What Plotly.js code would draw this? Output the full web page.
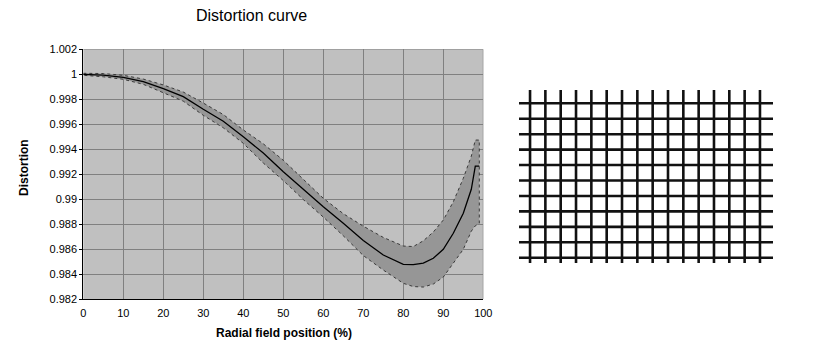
<!DOCTYPE html>
<html>
<head>
<meta charset="utf-8">
<script src="https://cdn.plot.ly/plotly-3.0.1.min.js"></script>
<style>html,body{margin:0;padding:0;background:#fff;}#chart{width:825px;height:354px;}</style>
</head>
<body>
<div id="chart"></div>
<script>
// Radial field position (%)
var positions = [0, 5, 10, 15, 20, 25, 30, 35, 40, 45, 50, 55, 60, 65, 70, 75, 80, 82.5, 85, 87.5, 90, 92.5, 95, 97, 98, 99];
// Distortion (mean curve)
var distortion = [1.0000, 0.99994, 0.99976, 0.99941, 0.99885, 0.99821, 0.9972, 0.99625, 0.995, 0.9937, 0.9922, 0.99078, 0.98941, 0.98808, 0.9867, 0.98554, 0.9848, 0.98478, 0.9849, 0.98528, 0.986, 0.98728, 0.98888, 0.9908, 0.99266, 0.99266];
// Upper envelope
var upperBound = [1.00008, 1.00006, 0.99992, 0.99962, 0.99915, 0.99858, 0.9977, 0.99678, 0.99555, 0.99444, 0.99312, 0.99158, 0.99008, 0.98885, 0.98785, 0.98695, 0.98626, 0.98622, 0.98668, 0.98738, 0.98834, 0.9898, 0.99168, 0.99345, 0.99474, 0.99474];
// Lower envelope
var lowerBound = [0.99992, 0.9998, 0.9996, 0.9992, 0.99855, 0.99785, 0.99672, 0.99572, 0.99448, 0.9929, 0.9915, 0.98998, 0.98858, 0.98708, 0.9855, 0.98434, 0.98328, 0.98302, 0.98298, 0.98322, 0.98378, 0.98488, 0.9860, 0.98745, 0.98788, 0.98808];

var xTickVals = [0, 10, 20, 30, 40, 50, 60, 70, 80, 90, 100];
var yTickVals = [0.982, 0.984, 0.986, 0.988, 0.99, 0.992, 0.994, 0.996, 0.998, 1, 1.002];
var yTickText = ["0.982", "0.984", "0.986", "0.988", "0.99", "0.992", "0.994", "0.996", "0.998", "1", "1.002"];

// Distorted-grid picture: column and row line indices
var gridCols = [0, 1, 2, 3, 4, 5, 6, 7, 8, 9, 10, 11, 12, 13, 14, 15];
var gridRows = [0, 1, 2, 3, 4, 5, 6, 7, 8, 9, 10];

var FONT = "Liberation Sans, Arial, sans-serif";

var traces = [];
// band polygon
var bandX = positions.concat(positions.slice().reverse());
var bandY = upperBound.concat(lowerBound.slice().reverse());
traces.push({
  x: bandX, y: bandY, type: "scatter", mode: "lines",
  fill: "toself", fillcolor: "#969696",
  line: {color: "#3a3a3a", width: 1, dash: "dot"},
  hoverinfo: "skip", showlegend: false, xaxis: "x", yaxis: "y"
});
traces.push({
  x: positions, y: distortion, type: "scatter", mode: "lines",
  line: {color: "#000000", width: 1.3},
  showlegend: false, xaxis: "x", yaxis: "y"
});

// grid picture
var rowMin = -0.34, rowMax = 10.86, colMin = -0.72, colMax = 15.85;
gridCols.forEach(function (c) {
  traces.push({x: [c, c], y: [rowMin, rowMax], type: "scatter", mode: "lines",
    line: {color: "#111111", width: 2.6}, showlegend: false, hoverinfo: "skip",
    xaxis: "x2", yaxis: "y2"});
});
gridRows.forEach(function (r) {
  traces.push({x: [colMin, colMax], y: [r, r], type: "scatter", mode: "lines",
    line: {color: "#111111", width: 2.6}, showlegend: false, hoverinfo: "skip",
    xaxis: "x2", yaxis: "y2"});
});

var layout = {
  width: 825, height: 354,
  margin: {l: 0, r: 0, t: 0, b: 0},
  paper_bgcolor: "#ffffff",
  plot_bgcolor: "rgba(0,0,0,0)",
  font: {family: FONT, size: 11, color: "#000"},
  showlegend: false,
  annotations: [
    {text: "Distortion curve", xref: "paper", yref: "paper", x: 251 / 825, y: 1 - 15 / 354,
     xanchor: "center", yanchor: "middle", showarrow: false,
     font: {family: FONT, size: 16, color: "#000"}},
    {text: "<b>Distortion</b>", xref: "paper", yref: "paper", x: 24 / 825, y: 1 - 168 / 354,
     xanchor: "center", yanchor: "middle", showarrow: false, textangle: -90,
     font: {family: FONT, size: 12, color: "#000"}},
    {text: "<b>Radial field position (%)</b>", xref: "paper", yref: "paper", x: 284 / 825, y: 1 - 333 / 354,
     xanchor: "center", yanchor: "middle", showarrow: false,
     font: {family: FONT, size: 12, color: "#000"}}
  ],
  xaxis: {
    domain: [83.3 / 825, 483.3 / 825], range: [0, 100],
    tickvals: xTickVals, ticks: "", ticklabelstandoff: 3,
    showgrid: true, gridcolor: "#808080", gridwidth: 1,
    showline: true, linecolor: "#000", linewidth: 1, zeroline: false,
    tickfont: {family: FONT, size: 11, color: "#000"}, fixedrange: true
  },
  yaxis: {
    domain: [1 - 299.3 / 354, 1 - 49.3 / 354], range: [0.982, 1.002],
    tickvals: yTickVals, ticktext: yTickText, ticks: "outside", ticklen: 3, tickcolor: "#000",
    showgrid: true, gridcolor: "#808080", gridwidth: 1,
    showline: true, linecolor: "#000", linewidth: 1, zeroline: false,
    tickfont: {family: FONT, size: 11, color: "#000"}, fixedrange: true
  },
  xaxis2: {
    domain: [519 / 825, 773 / 825], range: [colMin, colMax], anchor: "y2",
    visible: false, fixedrange: true
  },
  yaxis2: {
    domain: [1 - 263 / 354, 1 - 90 / 354], range: [rowMin, rowMax], anchor: "x2",
    visible: false, fixedrange: true
  },
  shapes: [
    {type: "rect", xref: "x domain", yref: "y domain", x0: 0, x1: 1, y0: 0, y1: 1,
     fillcolor: "#c0c0c0", line: {width: 0}, layer: "below"},
    {type: "line", xref: "x", yref: "y", x0: 100, x1: 100, y0: 0.982, y1: 1.002, line: {color: "#808080", width: 1}, layer: "between"},
    {type: "line", xref: "x", yref: "y", x0: 0, x1: 100, y0: 1.002, y1: 1.002, line: {color: "#808080", width: 1}, layer: "between"}
  ]
};

Plotly.newPlot("chart", traces, layout, {staticPlot: true, displayModeBar: false});
</script>
</body>
</html>
